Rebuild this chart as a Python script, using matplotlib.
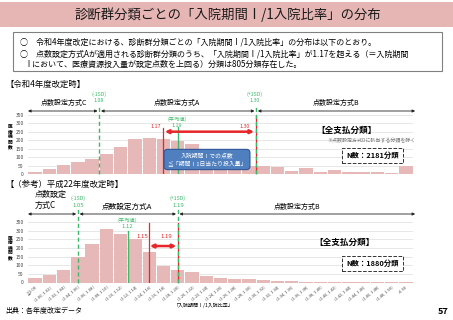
import matplotlib
matplotlib.use("Agg")
import matplotlib.pyplot as plt
from matplotlib.patches import Rectangle

plt.rcParams['font.family'] = ['Noto Sans CJK JP', 'DejaVu Sans']

# bins of 入院期間I/1入院比率
bin_labels = ["≦1.00", "(1.00, 1.02]", "(1.02, 1.04]", "(1.04, 1.06]", "(1.06, 1.08]",
              "(1.08, 1.10]", "(1.10, 1.12]", "(1.12, 1.14]", "(1.14, 1.16]", "(1.16, 1.18]",
              "(1.18, 1.20]", "(1.20, 1.22]", "(1.22, 1.24]", "(1.24, 1.26]", "(1.26, 1.28]",
              "(1.28, 1.30]", "(1.30, 1.32]", "(1.32, 1.34]", "(1.34, 1.36]", "(1.36, 1.38]",
              "(1.38, 1.40]", "(1.40, 1.42]", "(1.42, 1.44]", "(1.44, 1.46]", "(1.46, 1.48]",
              "(1.48, 1.50]", ">1.50"]
r4_counts = [12, 28, 53, 71, 87, 121, 162, 206, 214, 208, 198, 180, 125, 95, 70, 50,
             49, 43, 20, 37, 14, 26, 14, 12, 9, 6, 47]
h22_counts = [28, 43, 70, 146, 224, 312, 278, 250, 175, 97, 70, 59, 37, 24, 20, 18,
              17, 10, 6, 4, 5, 3, 3, 2, 2, 2, 3]
y_ticks = [0, 50, 100, 150, 200, 250, 300, 350]

# key ratios
r4_lsd, r4_mean, r4_a, r4_hsd = 1.08, 1.19, 1.17, 1.30
h22_lsd, h22_mean, h22_a, h22_hsd = 1.05, 1.12, 1.15, 1.19

W, H = 453, 320
PINK = '#e6b8b7'
GREEN = '#3cb96a'
RED = '#e8262a'


def fx(px):
    return px / W


def fy(py):
    return 1 - py / H


def pos(v):
    # ratio value -> bar position
    return (v - 1.00) / 0.02 + 0.5


fig = plt.figure(figsize=(W / 100, H / 100), dpi=100)

# title band
fig.patches.append(Rectangle((0, fy(27)), 1, 25 / H, transform=fig.transFigure,
                             fc='#e6b6b5', ec='none'))
fig.text(fx(228), fy(15), "診断群分類ごとの「入院期間Ⅰ/1入院比率」の分布",
         ha='center', va='center', fontsize=9.6, color='#1a1a1a')

# summary box
fig.patches.append(Rectangle((fx(13), fy(71)), fx(429), 39 / H, transform=fig.transFigure,
                             fc='white', ec='#808080', lw=0.8))
fs = 5.8
fig.text(fx(20), fy(42), "○　令和4年度改定における、診断群分類ごとの「入院期間Ⅰ/1入院比率」の分布は以下のとおり。",
         va='center', fontsize=fs)
fig.text(fx(20), fy(53.5), "○　点数設定方式Aが適用される診断群分類のうち、「入院期間Ⅰ/1入院比率」が1.17を超える（＝入院期間",
         va='center', fontsize=fs)
fig.text(fx(24), fy(64.5), "Ⅰにおいて、医療資源投入量が設定点数を上回る）分類は805分類存在した。",
         va='center', fontsize=fs)

fig.text(fx(5), fy(84), "【令和4年度改定時】", va='center', fontsize=6)
fig.text(fx(5), fy(184), "【（参考）平成22年度改定時】", va='center', fontsize=6)

x = list(range(len(bin_labels)))


def setup(ax):
    ax.set_xlim(-0.5, len(bin_labels) - 0.5)
    ax.set_ylim(0, 350)
    ax.set_yticks(y_ticks)
    ax.tick_params(axis='y', labelsize=3.6, length=0, pad=3, labelcolor='#444444')
    ax.grid(axis='y', color='#e3e3e3', lw=0.6)
    ax.set_axisbelow(True)
    for s in ax.spines.values():
        s.set_visible(False)


def arrow(ax, x0, x1, y, color='#222222', lw=0.6, ms=4):
    ax.annotate('', xy=(x1, y), xytext=(x0, y), xycoords=ax.get_xaxis_transform(),
                arrowprops=dict(arrowstyle='<|-|>', color=color, lw=lw, mutation_scale=ms,
                                shrinkA=0, shrinkB=0), annotation_clip=False)


# ---- top chart (令和4年度) ----
ax1 = fig.add_axes([fx(28), fy(174), 385 / W, 59 / H])
ax1.bar(x, r4_counts, width=0.94, color=PINK, edgecolor='none')
setup(ax1)
ax1.set_xticks([])

ax1.axvline(pos(r4_lsd), 0, 1.17, color=GREEN, ls=(0, (3, 2)), lw=1.0, clip_on=False)
ax1.axvline(pos(r4_mean), 0, 0.8, color=GREEN, lw=1.0)
ax1.axvline(pos(r4_a), 0, 0.78, color=RED, lw=0.9)
ax1.axvline(pos(r4_hsd), 0, 0.98, color=RED, lw=0.9)
ax1.axvline(pos(r4_hsd), 0, 1.17, color=GREEN, ls=(0, (3, 2)), lw=1.0, clip_on=False)

yt = (174 - 111) / 59
arrow(ax1, -0.5, pos(r4_lsd) - 0.12, yt)
arrow(ax1, pos(r4_lsd) + 0.12, pos(r4_hsd) - 0.12, yt)
arrow(ax1, pos(r4_hsd) + 0.12, len(bin_labels) - 0.35, yt)
arrow(ax1, pos(r4_a) + 0.1, pos(r4_hsd) - 0.15, 251 / 350, color=RED, lw=1.8, ms=5)

fig.text(fx(64), fy(103), "点数設定方式C", ha='center', va='center', fontsize=5)
fig.text(fx(177), fy(103), "点数設定方式A", ha='center', va='center', fontsize=5)
fig.text(fx(336), fy(103), "点数設定方式B", ha='center', va='center', fontsize=5)

gfs = 3.8
fig.text(fx(99), fy(94), "(-1SD)", ha='center', va='center', fontsize=gfs, color=GREEN)
fig.text(fx(99), fy(100.5), "1.08", ha='center', va='center', fontsize=gfs, color=GREEN)
fig.text(fx(255), fy(94), "(+1SD)", ha='center', va='center', fontsize=gfs, color=GREEN)
fig.text(fx(255), fy(100.5), "1.30", ha='center', va='center', fontsize=gfs, color=GREEN)
fig.text(fx(177), fy(119), "(平均値)", ha='center', va='center', fontsize=gfs, color=GREEN)
fig.text(fx(177), fy(125.5), "1.19", ha='center', va='center', fontsize=gfs, color=GREEN)
fig.text(fx(161), fy(127), "1.17", ha='right', va='center', fontsize=gfs, color=RED)
fig.text(fx(250), fy(126), "1.30", ha='right', va='center', fontsize=gfs, color=RED)

fig.text(fx(207), fy(159.5), "入院期間Ⅰでの点数\n≦「期間Ⅰ1日当たり投入量」", ha='center', va='center',
         fontsize=4.2, color='white', linespacing=1.5,
         bbox=dict(boxstyle='round,pad=0.55,rounding_size=0.6', fc='#4f7fbf', ec='#2e5597', lw=0.8))

fig.text(fx(347), fy(130), "【全支払分類】", ha='center', va='center', fontsize=6.2, weight='bold')
fig.text(fx(371), fy(140), "※点数設定方式Dに該当する分類を除く", ha='center', va='center',
         fontsize=3.6, color='#777777')
fig.text(fx(372.5), fy(155.5), "N数：2181分類", ha='center', va='center', fontsize=5.3, weight='bold',
         bbox=dict(boxstyle='square,pad=0.55', fc='white', ec='#333333', ls='--', lw=0.7))

fig.text(fx(10), fy(137), "医\n療\n機\n関\n数", ha='center', va='center', fontsize=3.4,
         weight='bold', linespacing=1.0)

# ---- bottom chart (平成22年度) ----
ax2 = fig.add_axes([fx(28), fy(282.5), 385 / W, 60.5 / H])
ax2.bar(x, h22_counts, width=0.94, color=PINK, edgecolor='none')
setup(ax2)
ax2.set_xticks(x)
ax2.set_xticklabels(bin_labels, rotation=40, ha='right', rotation_mode='anchor',
                    fontsize=2.9, color='#444444')
ax2.tick_params(axis='x', length=0, pad=2)

ax2.axvline(pos(h22_lsd), 0, 1.23, color=GREEN, ls=(0, (3, 2)), lw=1.0, clip_on=False)
ax2.axvline(pos(h22_mean), 0, 0.85, color=GREEN, lw=1.0)
ax2.axvline(pos(h22_a), 0, 0.98, color=RED, lw=0.9)
ax2.axvline(pos(h22_hsd), 0, 0.98, color=RED, lw=0.9)
ax2.axvline(pos(h22_hsd), 0, 1.23, color=GREEN, ls=(0, (3, 2)), lw=1.0, clip_on=False)

yb = (282.5 - 214) / 60.5
arrow(ax2, -0.5, pos(h22_lsd) - 0.12, yb)
arrow(ax2, pos(h22_lsd) + 0.12, pos(h22_hsd) - 0.12, yb)
arrow(ax2, pos(h22_hsd) + 0.12, len(bin_labels) - 0.35, yb)
arrow(ax2, pos(h22_a) + 0.05, pos(h22_hsd) - 0.1, 211 / 350, color=RED, lw=1.8, ms=5)

fig.text(fx(35), fy(200), "点数設定\n方式C", ha='left', va='center', fontsize=5.8, linespacing=1.4)
fig.text(fx(127), fy(207), "点数設定方式A", ha='center', va='center', fontsize=5.5)
fig.text(fx(297), fy(207), "点数設定方式B", ha='center', va='center', fontsize=5)

fig.text(fx(78), fy(198.5), "(-1SD)", ha='center', va='center', fontsize=gfs, color=GREEN)
fig.text(fx(78), fy(205.5), "1.05", ha='center', va='center', fontsize=4.3, color=GREEN)
fig.text(fx(178), fy(198.5), "(+1SD)", ha='center', va='center', fontsize=gfs, color=GREEN)
fig.text(fx(178), fy(205.5), "1.19", ha='center', va='center', fontsize=4.3, color=GREEN)
fig.text(fx(127), fy(220), "(平均値)", ha='center', va='center', fontsize=gfs, color=GREEN)
fig.text(fx(127), fy(227), "1.12", ha='center', va='center', fontsize=4.3, color=GREEN)
fig.text(fx(142), fy(236.5), "1.15", ha='center', va='center', fontsize=4.3, color=RED)
fig.text(fx(166), fy(236.5), "1.19", ha='center', va='center', fontsize=4.3, color=RED)

fig.text(fx(345), fy(242), "【全支払分類】", ha='center', va='center', fontsize=6.2, weight='bold')
fig.text(fx(372.5), fy(263.5), "N数：1880分類", ha='center', va='center', fontsize=5.3, weight='bold',
         bbox=dict(boxstyle='square,pad=0.55', fc='white', ec='#333333', ls='--', lw=0.7))

fig.text(fx(10), fy(248), "医\n療\n機\n関\n数", ha='center', va='center', fontsize=3.4,
         weight='bold', linespacing=1.0)

fig.text(fx(204), fy(305), "「入院期間Ⅰ/1入院比率」", ha='center', va='center', fontsize=3.6)
fig.text(fx(5), fy(311), "出典：各年度改定データ", va='center', fontsize=5)
fig.text(fx(443), fy(311), "57", ha='center', va='center', fontsize=6.5, weight='bold')

fig.savefig("out.png", dpi=100)
